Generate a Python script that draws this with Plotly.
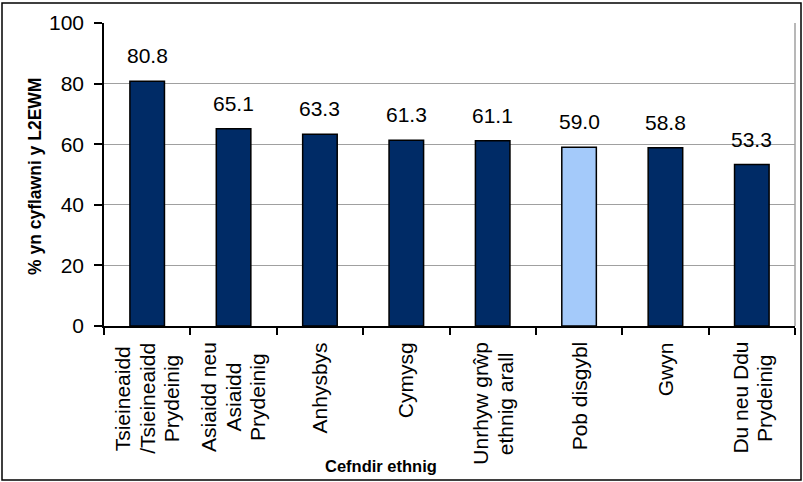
import plotly.graph_objects as go

categories = ["Tsieineaidd<br>/Tsieineaidd<br>Prydeinig", "Asiaidd neu<br>Asiaidd<br>Prydeinig", "Anhysbys",
              "Cymysg", "Unrhyw grŵp<br>ethnig arall", "Pob disgybl", "Gwyn", "Du neu Ddu<br>Prydeinig"]
values = [80.8, 65.1, 63.3, 61.3, 61.1, 59.0, 58.8, 53.3]
labels = ["80.8", "65.1", "63.3", "61.3", "61.1", "59.0", "58.8", "53.3"]
y_ticks = [0, 20, 40, 60, 80, 100]

DARK = "#002B66"
LIGHT = "#A4CAFA"
colors = [LIGHT if c == "Pob disgybl" else DARK for c in categories]

FONT = "Liberation Sans, Arial, sans-serif"
FS = 21
LINE_GAP = 24.5
LABEL_GAP = 16

# Arial / Liberation Sans advance widths (per 1000 em) for text-length estimates
ARIAL_W = {" ": 278, "/": 278, "A": 667, "D": 722, "G": 778, "P": 667, "T": 611, "U": 722,
           "C": 722, "a": 556, "b": 556, "c": 500, "d": 556, "e": 556, "f": 278, "g": 556,
           "h": 556, "i": 222, "l": 222, "m": 833, "n": 556, "o": 556, "p": 556, "r": 333,
           "s": 500, "t": 278, "u": 556, "w": 722, "y": 500, "ŵ": 722}


def text_len(s, size):
    return sum(ARIAL_W.get(ch, 556) for ch in s) * size / 1000.0


fig = go.Figure()
fig.add_trace(go.Bar(
    x=categories, y=values,
    marker=dict(color=colors, line=dict(color="black", width=1.5)),
    width=0.4,
    hoverinfo="x+y",
))

for c, v, t in zip(categories, values, labels):
    fig.add_annotation(x=c, y=v, text=t, showarrow=False, yanchor="bottom",
                       yshift=12, font=dict(family=FONT, size=FS, color="black"))

# category labels, rotated; lines centred on each other, block starting below the axis
for c in categories:
    lines = c.split("<br>")
    n = len(lines)
    longest = max(text_len(s, FS) for s in lines)
    for i, ln in enumerate(lines):
        fig.add_annotation(x=c, y=0, text=ln, showarrow=False, textangle=-90,
                           xanchor="center", yanchor="middle",
                           xshift=(i - (n - 1) / 2) * LINE_GAP,
                           yshift=-(LABEL_GAP + longest / 2),
                           font=dict(family=FONT, size=FS, color="black"))

W, H = 803, 482
L, R, T, B = 104, 8, 23, 156
pw, ph = W - L - R, H - T - B

fig.update_layout(
    width=W, height=H,
    margin=dict(l=L, r=R, t=T, b=B, pad=0),
    paper_bgcolor="white", plot_bgcolor="white",
    font=dict(family=FONT, size=FS, color="black"),
    showlegend=False,
    xaxis=dict(
        type="category",
        showticklabels=False,
        tickson="boundaries",
        ticks="outside", ticklen=7, tickcolor="black", tickwidth=1.5,
        showline=True, linecolor="black", linewidth=1.5,
        showgrid=False,
    ),
    yaxis=dict(
        range=[0, 100],
        tickvals=y_ticks,
        ticks="outside", ticklen=8, tickcolor="black", tickwidth=1.5,
        ticklabelstandoff=6,
        showline=True, linecolor="black", linewidth=1.5,
        showgrid=True, gridcolor="#A0A0A0", gridwidth=1.2,
        zeroline=False,
        tickfont=dict(family=FONT, size=FS, color="black"),
    ),
)

# right border of plot area (grey)
fig.add_shape(type="line", xref="paper", yref="paper", x0=1, x1=1, y0=0, y1=1,
              line=dict(color="#A0A0A0", width=1.5))

# y title
fig.add_annotation(xref="paper", yref="paper", x=(35 - L) / pw, y=(T + ph - 177) / ph,
                   text="<b>% yn cyflawni y L2EWM</b>", textangle=-90, showarrow=False,
                   xanchor="center", yanchor="middle",
                   font=dict(family=FONT, size=17.5, color="black"))
# x title
fig.add_annotation(xref="paper", yref="paper", x=(381 - L) / pw, y=(T + ph - 466) / ph,
                   text="<b>Cefndir ethnig</b>", showarrow=False,
                   xanchor="center", yanchor="middle",
                   font=dict(family=FONT, size=16.5, color="black"))

# outer chart border
fig.add_shape(type="rect", xref="paper", yref="paper",
              x0=(2 - L) / pw, x1=(801 - L) / pw,
              y0=(T + ph - 480) / ph, y1=(T + ph - 3) / ph,
              line=dict(color="black", width=1.5), fillcolor="rgba(0,0,0,0)", layer="above")

fig.write_html("out.html", config={"displayModeBar": False},
               post_script="document.body.style.margin='0';")
